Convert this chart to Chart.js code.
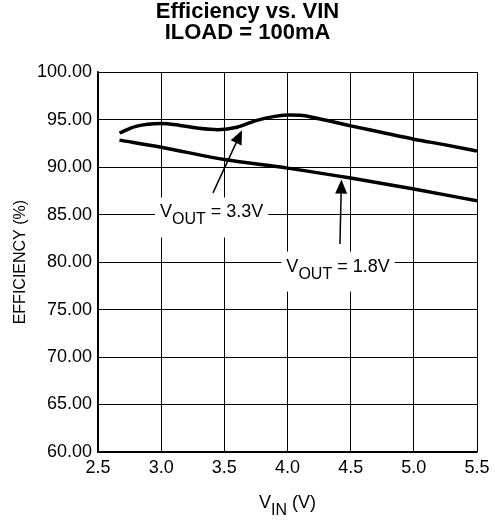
<!DOCTYPE html>
<html>
<head>
<meta charset="utf-8">
<script src="https://cdn.jsdelivr.net/npm/chart.js@4"></script>
<style>
  body { margin: 0; background: #fff; }
  canvas { display: block; }
</style>
</head>
<body>
<canvas id="chart" width="495" height="523"></canvas>
<script>
// VOUT = 3.3V curve
const vin33 = [2.67, 2.8, 3.0, 3.15, 3.3, 3.45, 3.6, 3.75, 3.9, 4.02, 4.12, 4.25, 4.5, 4.75, 5.0, 5.25, 5.5];
const eff33 = [93.6, 94.3, 94.6, 94.4, 94.1, 93.95, 94.2, 94.9, 95.35, 95.5, 95.45, 95.1, 94.35, 93.65, 92.95, 92.35, 91.7];
// VOUT = 1.8V curve
const vin18 = [2.67, 3.0, 3.5, 4.0, 4.5, 5.0, 5.5];
const eff18 = [92.85, 92.1, 90.8, 89.9, 88.85, 87.7, 86.45];

const xTicks = [2.5, 3.0, 3.5, 4.0, 4.5, 5.0, 5.5];
const yTicks = [60, 65, 70, 75, 80, 85, 90, 95, 100];

// callout labels: [x, y] of the label, arrow start and arrow tip (data units)
const labels = [
    { out: '3.3V', at: [3.40, 84.7], from: [3.41, 87.3], to: [3.64, 93.9] },
    { out: '1.8V', at: [4.40, 79.0], from: [4.415, 81.9], to: [4.427, 88.7] }
];

const FONT = "'Liberation Sans', Arial, Helvetica, sans-serif";

function toPoints(xs, ys) {
    return xs.map((x, i) => ({ x: x, y: ys[i] }));
}

function drawVSub(ctx, x, y, sub, rest) {
    // draws V + subscript + rest, centred on x, baseline y
    const big = '18px ' + FONT, small = '16px ' + FONT;
    ctx.font = big;
    const wV = ctx.measureText('V').width;
    const wR = ctx.measureText(rest).width;
    ctx.font = small;
    const wS = ctx.measureText(sub).width;
    const total = wV + wS + wR;
    let x0 = x - total / 2;
    ctx.textAlign = 'left';
    ctx.textBaseline = 'alphabetic';
    ctx.fillStyle = '#000';
    ctx.font = big;
    ctx.fillText('V', x0, y);
    ctx.font = small;
    ctx.fillText(sub, x0 + wV, y + 7);
    ctx.font = big;
    ctx.fillText(rest, x0 + wV + wS, y);
}

const calloutPlugin = {
    id: 'callouts',
    afterDatasetsDraw(chart) {
        const ctx = chart.ctx;
        const xs = chart.scales.x, ys = chart.scales.y;
        ctx.save();
        labels.forEach(l => {
            const px = xs.getPixelForValue(l.at[0]);
            const py = ys.getPixelForValue(l.at[1]);
            // blank the grid behind the text
            ctx.font = '18px ' + FONT;
            const w = ctx.measureText('V').width + ctx.measureText(' = ' + l.out).width;
            ctx.font = '16px ' + FONT;
            const wAll = w + ctx.measureText('OUT').width;
            ctx.fillStyle = '#fff';
            ctx.fillRect(px - wAll / 2 - 5, py - 20, wAll + 10, 40);
            drawVSub(ctx, px, py, 'OUT', ' = ' + l.out);

            // arrow
            const x1 = xs.getPixelForValue(l.from[0]), y1 = ys.getPixelForValue(l.from[1]);
            const x2 = xs.getPixelForValue(l.to[0]), y2 = ys.getPixelForValue(l.to[1]);
            const ang = Math.atan2(y2 - y1, x2 - x1);
            const headLen = 14, headW = 6;
            const bx = x2 - headLen * Math.cos(ang), by = y2 - headLen * Math.sin(ang);
            ctx.strokeStyle = '#000';
            ctx.lineWidth = 1.5;
            ctx.beginPath();
            ctx.moveTo(x1, y1);
            ctx.lineTo(bx, by);
            ctx.stroke();
            ctx.fillStyle = '#000';
            ctx.beginPath();
            ctx.moveTo(x2, y2);
            ctx.lineTo(bx + headW * Math.sin(ang), by - headW * Math.cos(ang));
            ctx.lineTo(bx - headW * Math.sin(ang), by + headW * Math.cos(ang));
            ctx.closePath();
            ctx.fill();
        });

        // x axis title with subscript
        const area = chart.chartArea;
        drawVSub(ctx, (area.left + area.right) / 2, 508, 'IN', ' (V)');
        ctx.restore();
    }
};

const ctx = document.getElementById('chart').getContext('2d');
const chart = new Chart(ctx, {
    type: 'line',
    data: {
        datasets: [
            {
                label: 'VOUT = 3.3V',
                data: toPoints(vin33, eff33),
                borderColor: '#000',
                borderWidth: 3.5,
                pointRadius: 0,
                tension: 0.4,
                cubicInterpolationMode: 'monotone'
            },
            {
                label: 'VOUT = 1.8V',
                data: toPoints(vin18, eff18),
                borderColor: '#000',
                borderWidth: 3.5,
                pointRadius: 0,
                tension: 0.4,
                cubicInterpolationMode: 'monotone'
            }
        ]
    },
    options: {
        responsive: false,
        animation: false,
        layout: { padding: 0 },
        plugins: {
            legend: { display: false },
            tooltip: { enabled: false },
            title: {
                display: true,
                text: ['Efficiency vs. VIN', 'ILOAD = 100mA'],
                color: '#000',
                font: { family: FONT, size: 22, weight: 'bold', lineHeight: 0.96 },
                padding: { top: 1, bottom: 29 }
            }
        },
        scales: {
            x: {
                type: 'linear',
                min: 2.5,
                max: 5.5,
                afterBuildTicks: s => { s.ticks = xTicks.map(v => ({ value: v })); },
                afterFit: s => { s.height = 71; s.paddingRight = 0; },
                ticks: {
                    color: '#000',
                    font: { family: FONT, size: 18 },
                    padding: 5,
                    maxRotation: 0,
                    callback: v => Number(v).toFixed(1)
                },
                grid: { color: '#000', lineWidth: 1, drawTicks: false },
                border: { color: '#000', width: 1.5 }
            },
            y: {
                min: 60,
                max: 100,
                afterBuildTicks: s => { s.ticks = yTicks.map(v => ({ value: v })); },
                afterFit: s => { s.width = 98; },
                ticks: {
                    color: '#000',
                    font: { family: FONT, size: 18 },
                    padding: 6,
                    callback: v => Number(v).toFixed(2)
                },
                grid: { color: '#000', lineWidth: 1, drawTicks: false },
                border: { color: '#000', width: 1.5 },
                title: {
                    display: true,
                    text: 'EFFICIENCY (%)',
                    color: '#000',
                    font: { family: FONT, size: 16 },
                    padding: { top: 11, bottom: 0 }
                }
            },
            // empty right-hand strip so the title stays centred on the page
            yRight: {
                position: 'right',
                min: 60,
                max: 100,
                afterFit: s => { s.width = 18; },
                ticks: { display: false },
                grid: { display: false, drawOnChartArea: false },
                border: { display: false }
            }
        }
    },
    plugins: [calloutPlugin]
});
</script>
</body>
</html>
